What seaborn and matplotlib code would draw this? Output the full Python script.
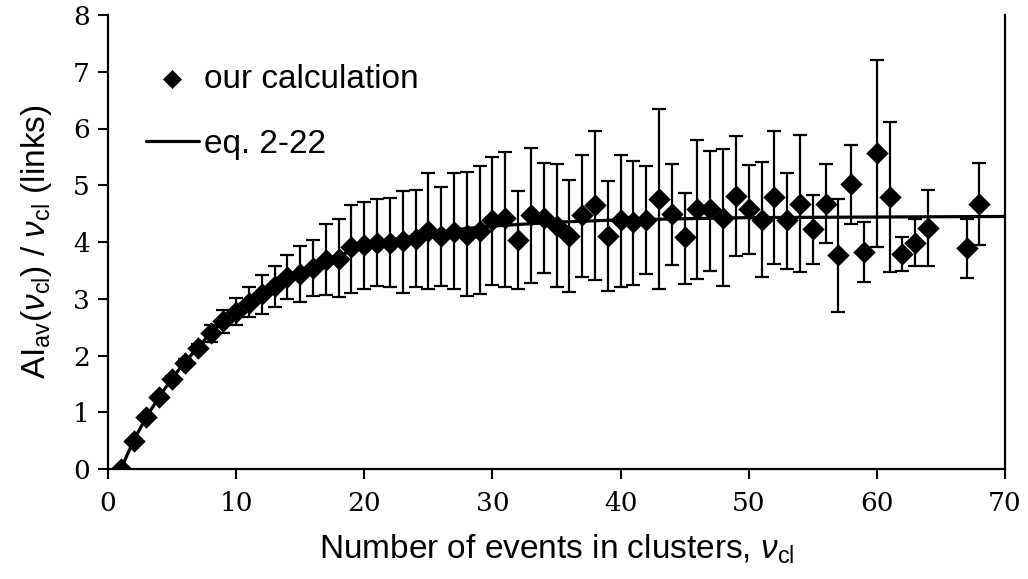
import numpy as np
import pandas as pd
import matplotlib
matplotlib.use("Agg")
import matplotlib.pyplot as plt
import seaborn as sns

# ---- data ----
x_calc = [1, 2, 3, 4, 5, 6, 7, 8, 9, 10, 11, 12, 13, 14, 15, 16, 17, 18, 19, 20,
          21, 22, 23, 24, 25, 26, 27, 28, 29, 30, 31, 32, 33, 34, 35, 36, 37, 38, 39, 40,
          41, 42, 43, 44, 45, 46, 47, 48, 49, 50, 51, 52, 53, 54, 55, 56, 57, 58, 59, 60,
          61, 62, 63, 64, 67, 68]
y_calc = [0.00, 0.50, 0.91, 1.26, 1.58, 1.87, 2.13, 2.39, 2.60, 2.76, 2.93, 3.08, 3.22, 3.39, 3.43, 3.54, 3.68, 3.70, 3.92, 3.95,
          3.99, 3.99, 4.01, 4.05, 4.20, 4.11, 4.18, 4.12, 4.20, 4.38, 4.42, 4.04, 4.48, 4.43, 4.29, 4.11, 4.48, 4.65, 4.11, 4.38,
          4.35, 4.38, 4.76, 4.49, 4.08, 4.58, 4.58, 4.43, 4.81, 4.58, 4.39, 4.79, 4.38, 4.67, 4.23, 4.67, 3.77, 5.02, 3.83, 5.56,
          4.80, 3.79, 3.99, 4.25, 3.89, 4.67]
y_upper = [0.00, 0.52, 0.94, 1.30, 1.63, 1.93, 2.20, 2.54, 2.80, 3.01, 3.20, 3.41, 3.58, 3.77, 3.93, 4.03, 4.31, 4.40, 4.66, 4.70,
           4.75, 4.78, 4.90, 4.92, 5.22, 4.97, 5.21, 5.24, 5.34, 5.49, 5.59, 4.90, 5.65, 5.39, 5.37, 5.10, 5.54, 5.96, 5.07, 5.54,
           5.43, 5.34, 6.34, 5.37, 4.87, 5.79, 5.61, 5.64, 5.87, 5.36, 5.41, 5.96, 5.22, 5.89, 4.83, 5.37, 4.76, 5.71, 4.36, 7.20,
           6.12, 4.09, 4.41, 4.92, 4.41, 5.40]
y_lower = [0.00, 0.48, 0.88, 1.22, 1.53, 1.81, 2.06, 2.23, 2.40, 2.54, 2.67, 2.73, 2.85, 3.00, 2.94, 3.04, 3.07, 3.03, 3.11, 3.17,
           3.23, 3.21, 3.11, 3.20, 3.17, 3.23, 3.18, 3.04, 3.08, 3.24, 3.20, 3.17, 3.27, 3.45, 3.20, 3.12, 3.39, 3.33, 3.14, 3.21,
           3.24, 3.43, 3.18, 3.59, 3.26, 3.35, 3.49, 3.22, 3.75, 3.79, 3.39, 3.61, 3.52, 3.47, 3.62, 3.99, 2.77, 4.31, 3.29, 3.92,
           3.47, 3.49, 3.58, 3.58, 3.36, 3.95]

x_eq = [1, 2, 3, 4, 5, 6, 7, 8, 10, 12, 14, 16, 18, 20, 22, 25, 28, 30, 35, 40, 45, 50, 60, 70]
y_eq = [0.00, 0.50, 0.92, 1.27, 1.60, 1.88, 2.14, 2.39, 2.80, 3.12, 3.38, 3.58, 3.76, 3.92, 4.03, 4.15, 4.24, 4.28, 4.35, 4.39, 4.41, 4.43, 4.44, 4.45]

x_ticks = [0, 10, 20, 30, 40, 50, 60, 70]
y_ticks = [0, 1, 2, 3, 4, 5, 6, 7, 8]

calc = pd.DataFrame({"x": x_calc, "y": y_calc, "lo": y_lower, "hi": y_upper})
eq = pd.DataFrame({"x": x_eq, "y": y_eq})

sns.set_theme(style="white")
plt.rcParams["font.family"] = ["Liberation Sans", "DejaVu Sans"]
plt.rcParams["mathtext.fontset"] = "custom"
plt.rcParams["mathtext.rm"] = "Liberation Sans"
plt.rcParams["mathtext.it"] = "Liberation Sans:italic"
plt.rcParams["text.color"] = "black"
plt.rcParams["axes.labelcolor"] = "black"

fig = plt.figure(figsize=(10.28, 5.79), dpi=100)
ax = fig.add_axes([108 / 1028, 1 - 469 / 579, (1005 - 108) / 1028, (469 - 15) / 579])

# error bars
ax.errorbar(calc["x"], calc["y"],
            yerr=[calc["y"] - calc["lo"], calc["hi"] - calc["y"]],
            fmt="none", ecolor="black", elinewidth=1.6, capsize=4.7, capthick=1.6, zorder=2)

sns.lineplot(data=eq, x="x", y="y", ax=ax, color="black", linewidth=2.3,
             label="eq. 2-22", zorder=3)
sns.scatterplot(data=calc, x="x", y="y", ax=ax, marker="D", s=130, color="black",
                edgecolor="black", linewidth=0, label="our calculation", zorder=4)

ax.set_xlim(0, 70)
ax.set_ylim(0, 8)
ax.set_xticks(x_ticks)
ax.set_yticks(y_ticks)
for lab in ax.get_xticklabels() + ax.get_yticklabels():
    lab.set_fontfamily("DejaVu Serif")
    lab.set_fontsize(19)
    lab.set_color("black")
ax.tick_params(axis="both", direction="out", length=7, width=1.5, colors="black",
               bottom=True, left=True)
ax.tick_params(axis="x", pad=9)
ax.tick_params(axis="y", pad=6)

for side in ["left", "bottom", "right"]:
    ax.spines[side].set_visible(True)
    ax.spines[side].set_color("black")
    ax.spines[side].set_linewidth(1.6)
ax.spines["top"].set_visible(False)

ax.set_xlabel(r"Number of events in clusters, $\nu_\mathrm{cl}$", fontsize=24, labelpad=12)
ax.set_ylabel(r"AI$_\mathrm{av}$($\nu_\mathrm{cl}$) / $\nu_\mathrm{cl}$ (links)", fontsize=24, labelpad=14)

handles, labels = ax.get_legend_handles_labels()
order = [labels.index("our calculation"), labels.index("eq. 2-22")]
leg = ax.legend([handles[i] for i in order], [labels[i] for i in order],
                loc="upper left", bbox_to_anchor=(0.042, 0.893), frameon=False,
                fontsize=24, handlelength=1.6, handletextpad=0.15, labelspacing=1.03,
                borderpad=0, borderaxespad=0, markerscale=0.85)

fig.savefig("out.png", dpi=100)
